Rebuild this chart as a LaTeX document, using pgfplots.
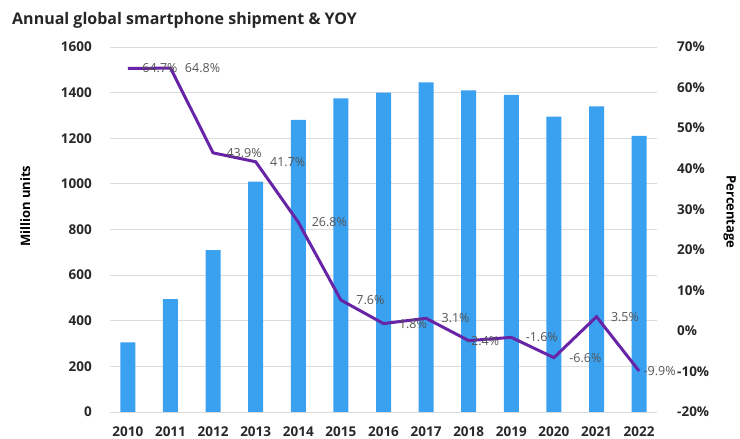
\documentclass[border=0pt]{standalone}
\usepackage{fontspec}
\setmainfont{Open Sans}
\usepackage{pgfplots}
\pgfplotsset{compat=1.18}
\usepackage{pgfplotstable}
\definecolor{barblue}{RGB}{58,160,240}
\definecolor{linepurple}{RGB}{104,36,166}
\definecolor{gridgray}{RGB}{220,220,220}
\definecolor{labgray}{RGB}{85,85,85}
\definecolor{tickgray}{RGB}{40,40,40}

\pgfplotstableread{
year units
2010 305
2011 495
2012 710
2013 1010
2014 1280
2015 1375
2016 1400
2017 1445
2018 1410
2019 1390
2020 1295
2021 1340
2022 1210
}\shipments

\pgfplotstableread{
year yoy lab dx
2010 64.7 64.7\% 13
2011 64.8 64.8\% 13
2012 43.9 43.9\% 12
2013 41.7 41.7\% 13
2014 26.8 26.8\% 12
2015 7.6 7.6\% 14
2016 1.8 1.8\% 14
2017 3.1 3.1\% 14
2018 -2.4 -2.4\% -3
2019 -1.6 -1.6\% 13
2020 -6.6 -6.6\% 14
2021 3.5 3.5\% 13
2022 -9.9 -9.9\% 3
}\yoy

\begin{document}
\begin{tikzpicture}[x=1pt,y=1pt]
\begin{axis}[
  at={(110pt,27pt)}, anchor=south west,
  scale only axis, width=547pt, height=365pt,
  xmin=2009.58, xmax=2022.42,
  ymin=0, ymax=1600,
  xtick={2010,2011,...,2022},
  ytick={0,200,...,1600},
  axis line style={draw=none},
  tick style={draw=none},
  ymajorgrids,
  grid style={gridgray, line width=0.9pt},
  /pgf/number format/1000 sep={},
  /pgf/number format/assume math mode=true,
  xticklabel style={anchor=base, yshift=-25pt, inner sep=0pt, font=\fontsize{13.5}{15}\selectfont\bfseries, text=tickgray},
  yticklabel style={anchor=east, xshift=-18pt, inner sep=0pt, font=\fontsize{13.5}{15}\selectfont\bfseries, text=tickgray},
  ylabel={Million units},
  ylabel style={at={(axis description cs:-0.155,0.564)}, anchor=center, font=\fontsize{13}{15}\selectfont\bfseries, text=black},
]
\addplot[ybar, bar width=15pt, bar shift=0pt, fill=barblue, draw=none] table[x=year, y=units] {\shipments};
\end{axis}
\begin{axis}[
  at={(110pt,27pt)}, anchor=south west,
  scale only axis, width=547pt, height=365pt,
  xmin=2009.58, xmax=2022.42,
  ymin=-20, ymax=70,
  ytick={-20,-10,...,70},
  axis y line*=right,
  axis x line=none,
  axis line style={draw=none},
  tick style={draw=none},
  /pgf/number format/assume math mode=true,
  yticklabel={\pgfmathprintnumber{\tick}\%},
  yticklabel style={anchor=west, xshift=20pt, inner sep=0pt, font=\fontsize{13.5}{15}\selectfont\bfseries, text=tickgray},
  ylabel={Percentage},
  ylabel style={at={(axis description cs:1.133,0.548)}, anchor=center, rotate=180, font=\fontsize{13}{15}\selectfont\bfseries, text=black},
]
\addplot[linepurple, line width=3pt, no marks,
  nodes near coords,
  point meta=explicit symbolic,
  visualization depends on={\thisrow{dx} \as \dx},
  every node near coord/.append style={anchor=west, xshift=\dx pt, inner sep=0pt, text=labgray, font=\fontsize{12.5}{14}\selectfont},
] table[x=year, y=yoy, meta=lab] {\yoy};
\end{axis}
\node[anchor=base west, inner sep=0pt, font=\fontsize{16}{18}\selectfont\bfseries, text=black!85] at (12pt,414pt) {Annual global smartphone shipment \& YOY};
\pgfresetboundingbox
\useasboundingbox (0pt,0pt) rectangle (740pt,439pt);
\end{tikzpicture}
\end{document}
